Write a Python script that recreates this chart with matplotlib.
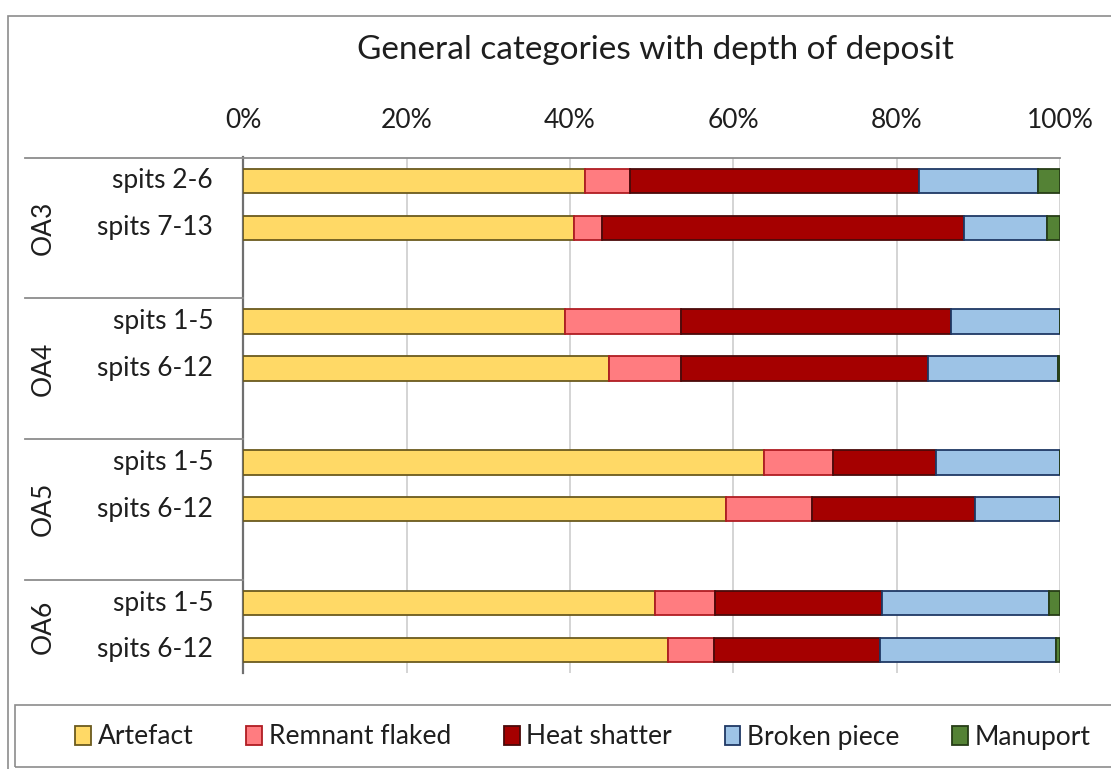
import matplotlib
matplotlib.use("Agg")
import matplotlib.pyplot as plt
from matplotlib.patches import Rectangle, Patch
from matplotlib.lines import Line2D

plt.rcParams['font.family'] = ['Lato', 'DejaVu Sans']

# Data: percentage composition per spit range, grouped by area
groups = ["OA3", "OA4", "OA5", "OA6"]
spits = [["spits 2-6", "spits 7-13"],
         ["spits 1-5", "spits 6-12"],
         ["spits 1-5", "spits 6-12"],
         ["spits 1-5", "spits 6-12"]]
series = ["Artefact", "Remnant flaked", "Heat shatter", "Broken piece", "Manuport"]
artefact = [41.8, 40.5, 39.4, 44.8, 63.7, 59.1, 50.4, 52.0]
remnant = [5.6, 3.4, 14.2, 8.8, 8.5, 10.5, 7.4, 5.6]
heat = [35.3, 44.4, 33.1, 30.2, 12.6, 20.0, 20.4, 20.3]
broken = [14.6, 10.1, 13.3, 15.9, 15.2, 10.4, 20.4, 21.6]
manuport = [2.7, 1.6, 0.0, 0.3, 0.0, 0.0, 1.4, 0.5]
xticks = [0, 20, 40, 60, 80, 100]

faces = ["#FFD966", "#FF7C80", "#A50000", "#9DC3E6", "#548235"]
edges = ["#6B5A1E", "#B01C22", "#4A0A0A", "#1F3864", "#263D17"]
text_color = "#1E1E1E"
label_size = 19

W, H = 1111, 769
fig = plt.figure(figsize=(W / 100, H / 100), dpi=100)

def fx(px):
    return px / W

def fy(py):
    return 1 - py / H

ax_l, ax_r, ax_t, ax_b = 243.3, 1060.0, 157.5, 673.4
ax = fig.add_axes([fx(ax_l), fy(ax_b), fx(ax_r) - fx(ax_l), fy(ax_t) - fy(ax_b)])

# slot positions: each group takes 3 slots (2 bars + a gap), last one 2
ypos = []
for g in range(len(groups)):
    ypos += [g * 3, g * 3 + 1]

left = [0.0] * len(ypos)
for vals, fc, ec, name in zip([artefact, remnant, heat, broken, manuport], faces, edges, series):
    ax.barh(ypos, vals, left=left, height=0.52, color=fc, edgecolor=ec,
            linewidth=1.3, label=name, zorder=3)
    left = [a + b for a, b in zip(left, vals)]

ax.set_xlim(0, 100)
ax.set_ylim(10.5, -0.5)
ax.xaxis.tick_top()
ax.set_xticks(xticks)
ax.set_xticklabels([f"{t}%" for t in xticks], fontsize=label_size, color=text_color)
ax.tick_params(axis="x", length=0, pad=18)
ax.set_yticks([])
ax.grid(axis="x", color="#D4D4D4", linewidth=1.4, zorder=0)
for s in ["right", "bottom"]:
    ax.spines[s].set_visible(False)
ax.spines["top"].set_color("#8C8C8C")
ax.spines["top"].set_linewidth(1.3)
ax.spines["left"].set_color("#707070")
ax.spines["left"].set_linewidth(1.6)

# inner category labels
flat = [s for grp in spits for s in grp]
for y, lab in zip(ypos, flat):
    ax.text(-3.7, y, lab, ha="right", va="center", fontsize=label_size, color=text_color,
            transform=ax.transData, clip_on=False)

# outer group labels and separators
slot_px = (ax_b - ax_t) / 11
for g, name in enumerate(groups):
    start = g * 3 - 0.5
    end = min(g * 3 + 2.5, 10.5)
    yc = ax_t + ((start + end) / 2 + 0.5) * slot_px
    fig.text(fx(43), fy(yc), name, rotation=90, ha="center", va="center",
             fontsize=label_size, color=text_color)
    ysep = ax_t + (start + 0.5) * slot_px
    fig.add_artist(Line2D([fx(25), fx(ax_l)], [fy(ysep), fy(ysep)],
                          color="#8C8C8C", linewidth=1.3))

# title
fig.text(fx(655), fy(50), "General categories with depth of deposit",
         ha="center", va="center", fontsize=24, color=text_color)

# outer chart border
fig.add_artist(Rectangle((fx(8), fy(H + 5)), 1.0, fy(16) - fy(H + 5),
                         fill=False, edgecolor="#8C8C8C", linewidth=1.2,
                         transform=fig.transFigure))

# legend box
fig.add_artist(Rectangle((fx(15), fy(767)), 1.0, fy(705) - fy(767),
                         fill=False, edgecolor="#8C8C8C", linewidth=1.2,
                         transform=fig.transFigure))
handles = [Patch(facecolor=fc, edgecolor=ec, linewidth=1.3) for fc, ec in zip(faces, edges)]
fig.legend(handles, series, loc="center", bbox_to_anchor=(fx(583), fy(737)),
           ncol=5, frameon=False, prop={"size": label_size}, labelcolor=text_color,
           handlelength=0.6, handleheight=0.75, handletextpad=0.25,
           columnspacing=2.0, borderpad=0)

fig.savefig("out.png", dpi=100)
